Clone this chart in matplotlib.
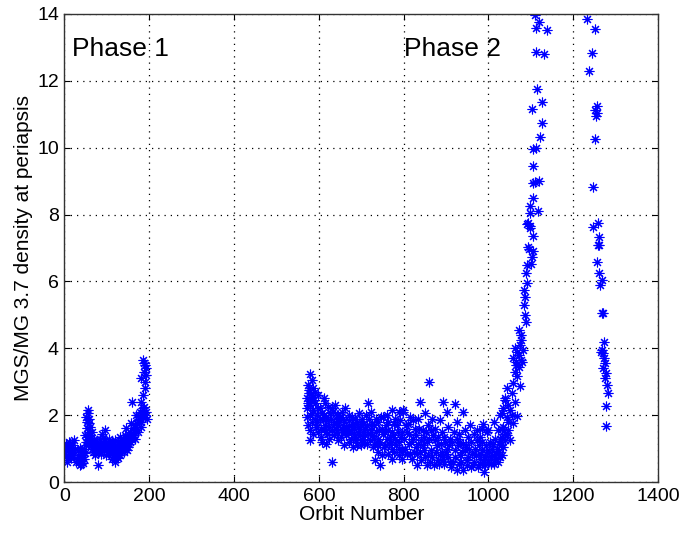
import matplotlib
matplotlib.use("Agg")
import matplotlib.pyplot as plt

plt.rcParams['font.family'] = ['Liberation Sans', 'DejaVu Sans']

# ---- data: (orbit number, density) ----
phase1_early = [(2,0.96),(5,1.05),(8,0.81),(10,1.2),(12,1.16),(14,0.9),(16,1.01),(18,1.1),(20,0.91),
                (22,1.25),(15,0.71),(7,0.61),(3,0.78),(24,1.0),
                (30,0.7),(32,0.81),(34,0.6),(36,1.01),(36,0.51),(38,0.9),(40,0.66),(42,0.75),(44,0.56),
                (46,1.0),(48,0.86),(50,1.2),(51,1.11),
                (4,1.15),(9,1.0),(13,0.75),(19,0.8),(28,0.6),(33,0.95),(39,0.55),(43,0.9),(47,0.7)]
phase1_peak = [(51,1.95),(53,1.8),(55,2.15),(56,2.05),(57,1.76),(54,1.61),(59,1.5),(48,1.41),(52,1.35),
               (63,1.31),(55,1.21),(58,1.4),(60,1.65),(62,1.2),(66,1.5),(58,1.9)]
phase1_mid = [(63,1.11),(67,0.91),(70,1.3),(71,1.01),(73,0.8),(75,1.16),(77,1.2),(79,0.91),(79,0.51),
              (81,1.0),(83,1.3),(85,0.85),(87,1.11),(89,1.45),(91,1.31),(93,0.95),(95,1.56),(97,1.2),
              (99,0.81),(100,1.05),(103,1.11),(105,1.3),(107,0.91),(110,1.01),(112,0.7),(113,1.2),
              (115,0.76),(117,0.95),(118,1.11),(118,0.61),(120,1.25),(122,0.85),(123,0.91),(125,1.1),
              (126,0.71),(128,0.95),(130,1.01),(130,1.36),(132,0.8),(134,1.21),(136,1.0),(138,1.11),
              (140,0.9),(142,1.41),(144,1.2),(146,1.06),(146,1.61),(148,0.95),(150,1.31),(152,1.15),
              (154,1.5),(156,1.3),(158,1.76),(159,2.38),
              (65,1.0),(69,1.2),(74,0.95),(78,1.05),(84,1.15),(88,1.0),(94,1.1),(98,1.0),(102,0.9),
              (108,1.15),(111,0.85),(116,1.05),(121,1.0),(124,0.75),(127,1.2),(131,0.9),(135,1.1),
              (139,1.25),(143,1.0),(147,1.25),(151,1.05),(155,1.2),(157,1.45),(160,1.3)]
phase1_end = [(162,1.61),(164,1.4),(166,1.71),(168,1.55),(169,2.0),(171,1.75),(173,1.85),(173,1.5),
              (175,1.9),(177,2.1),(179,1.95),(181,1.8),(181,1.65),(183,2.05),(185,1.95),(186,2.2),
              (188,2.25),(181,2.4),(185,2.6),(189,2.8),(181,3.1),(189,3.0),(188,3.3),(191,3.5),
              (185,3.65),(193,3.2),(193,2.1),(195,1.9),(190,2.0),(192,3.4),(187,3.55),
              (163,1.5),(167,1.3)]

phase2_start = [(579,3.22),(583,3.05),(574,2.90),(587,2.80),(592,2.70),(577,2.65),(599,2.60),(581,2.50),
                (576,2.75),(585,2.55),(575,2.35),(591,2.35),(571,2.20),(587,2.15),(579,2.00),(595,2.00),
                (583,1.80),(575,1.70),(579,1.25),(590,1.90),(572,1.95),(578,1.55),(586,1.45),(594,1.65),
                (598,2.2),(580,2.3),(588,2.45),(596,1.8),(573,2.5),(584,2.05)]
phase2_600s = [(603,2.20),(611,2.50),(615,2.35),(622,2.25),(630,2.20),(638,2.30),(662,2.20),(607,2.05),
               (618,1.95),(626,2.05),(634,2.1),(642,2.0),(650,1.95),(655,2.1),(670,2.0),(678,1.95),
               (686,1.9),(694,2.05),(701,1.90),(622,1.85),(646,2.0),(670,1.85),(610,1.85),(640,1.8),
               (660,1.8),(680,1.75),(690,1.8),
               (599,1.50),(615,1.70),(630,1.55),(646,1.70),(662,1.50),(678,1.65),(670,1.20),(693,1.50),
               (701,1.30),(605,1.35),(612,1.6),(620,1.45),(625,1.3),(635,1.4),(640,1.6),(652,1.35),
               (656,1.6),(665,1.4),(675,1.3),(684,1.45),(688,1.25),(697,1.6),(608,1.2),(632,0.59),
               (618,1.15),(645,1.25),(660,1.1),(680,1.05),(690,1.1),
               (602,1.9),(606,1.6),(613,2.0),(617,1.5),(624,1.65),(628,1.9),(636,1.75),(644,1.5),
               (648,1.8),(654,1.55),(658,1.9),(664,1.65),(668,1.5),(672,1.7),(676,1.5),(682,1.6),
               (686,1.35),(692,1.65),(696,1.4),(699,1.75)]
phase2_700s = [(709,1.60),(713,1.15),(715,2.35),(723,2.10),(725,1.40),(740,1.30),(732,0.65),(744,0.50),
               (740,0.90),(756,1.10),(772,1.00),(788,0.80),(772,0.70),(756,1.50),(772,1.50),(784,1.70),
               (764,1.80),(740,1.80),(752,1.95),(772,2.15),(788,2.10),(799,2.15),(705,1.75),(718,1.9),
               (730,1.7),(735,1.5),(748,1.6),(760,1.3),(765,1.15),(780,1.3),(790,1.2),(795,1.5),
               (720,1.25),(728,1.05),(736,1.15),(750,0.8),(762,0.85),(778,0.9),(795,1.0),(710,1.4),
               (746,1.95),(760,2.0),(780,1.9),(792,1.85),(712,2.0),(700,1.1),
               (703,1.5),(707,1.2),(714,1.7),(717,1.45),(722,1.55),(726,1.75),(731,1.3),(734,1.9),
               (738,1.1),(742,1.55),(745,1.2),(751,1.45),(754,1.05),(758,1.7),(763,1.55),(767,1.35),
               (770,1.2),(775,1.4),(777,1.75),(782,1.1),(786,1.5),(789,1.0),(793,1.35),(797,0.9)]
phase2_800s = [(861,2.98),(839,2.40),(894,2.40),(922,2.32),(851,2.05),(902,2.10),(939,2.08),(799,2.10),
               (815,1.95),(835,1.90),(866,1.90),(886,1.85),(925,1.80),(957,1.70),(988,1.75),(1012,1.80),
               (807,1.50),(823,1.30),(803,1.00),(819,0.70),(839,0.90),(854,1.20),(870,1.40),(862,0.60),
               (886,0.80),(878,1.10),(902,1.00),(909,1.30),(917,0.60),(933,0.80),(925,0.36),(941,1.15),
               (949,0.50),(961,0.85),(972,1.25),(980,0.70),(992,0.50),(996,0.90),(1004,1.20),(1012,0.80),
               (1020,1.00),(1027,1.30),(972,1.55),(996,1.50),(795,0.70),(831,0.50),
               (810,1.75),(826,1.6),(845,1.55),(858,1.7),(875,1.6),(890,1.5),(905,1.65),(918,1.5),
               (930,1.45),(945,1.55),(952,1.35),(965,1.45),(980,1.35),(985,1.6),(1000,1.55),(812,1.15),
               (828,1.05),(845,1.1),(850,0.75),(865,0.95),(872,0.5),(880,0.65),(895,0.55),(898,1.2),
               (905,0.75),(912,0.45),(920,0.95),(928,1.1),(936,0.6),(944,0.95),(953,0.75),(958,0.45),
               (965,0.6),(968,1.0),(975,0.45),(984,0.95),(988,0.6),(1000,0.65),(1005,0.55),(1008,1.0),
               (1016,0.7),(1022,0.6),(1025,0.9),(816,0.85),(832,0.85),(842,0.65),(856,0.5),(890,0.9),
               (940,0.35),(990,0.3),(1016,1.3),(1022,1.55),(1030,1.1),
               (801,1.3),(805,1.7),(809,0.85),(813,1.45),(817,1.2),(821,1.85),(824,0.9),(829,1.4),
               (833,1.15),(837,1.6),(841,1.25),(847,1.35),(849,0.95),(852,1.5),(857,0.8),(860,1.3),
               (864,1.55),(868,0.75),(873,1.25),(876,0.9),(882,1.35),(884,0.55),(888,1.15),(892,0.7),
               (896,1.35),(900,0.85),(907,1.1),(910,0.6),(914,1.2),(922,0.75),(926,1.3),(931,0.55),
               (934,1.2),(938,0.9),(947,1.1),(950,0.65),(955,1.0),(960,1.2),(963,0.5),(970,0.8),
               (977,1.1),(979,0.55),(982,0.85),(986,1.2),(991,0.75),(994,1.1),(998,0.6),(1002,0.9),
               (1006,0.75),(1010,1.15),(1014,0.55),(1018,0.85),(1024,1.15),(1028,0.75)]
phase2_rise = [(1027,2.00),(1035,2.20),(1043,2.80),(1039,2.50),(1031,1.60),(1043,1.40),
               (1031,2.05),(1043,1.95),(1051,2.15),(1068,1.98),(1059,1.76),(1035,1.65),(1047,1.56),
               (1031,1.36),(1039,1.26),(1051,1.26),(1035,1.06),(1031,0.81),(1055,2.65),(1039,2.45),
               (1059,2.95),(1075,2.88),(1067,3.17),(1063,4.0),(1082,3.95),(1071,3.80),(1059,3.70),
               (1078,3.65),(1065,3.50),(1073,3.45),(1071,4.55),(1076,4.40),(1078,4.25),(1089,4.80),
               (1084,5.29),(1086,5.54),(1084,5.74),(1092,5.96),(1089,6.26),(1100,6.52),(1102,6.74),
               (1096,6.96),(1094,7.02),(1106,7.37),(1098,7.6),(1090,7.72),(1098,7.67),(1094,7.74),
               (1118,8.12),(1098,8.05),(1098,8.27),(1104,8.49),(1106,8.95),(1119,9.0),(1110,8.98),
               (1104,9.46),(1106,9.96),(1112,10.0),(1122,10.33),(1126,10.73),(1102,11.15),(1126,11.38),
               (1115,11.75),(1112,12.87),(1130,12.80),(1112,13.57),(1138,13.52),(1120,13.77),(1110,13.97),
               (1045,2.3),(1055,2.0),(1063,2.4),(1047,1.8),(1040,1.45),(1062,3.3),(1068,3.9),(1074,4.1),
               (1080,3.6),(1066,3.6),(1087,5.0),(1090,6.5),(1104,6.9)]
phase2_late = [(1233,13.84),(1251,13.54),(1244,12.84),(1238,12.30),(1255,11.25),(1251,11.13),(1253,10.95),
               (1256,11.03),(1251,10.25),(1247,8.81),(1259,7.76),(1247,7.64),(1261,7.34),(1259,7.1),
               (1261,7.09),(1255,6.59),(1262,6.24),(1267,6.04),(1263,5.89),(1270,5.07),(1273,4.2),
               (1267,3.95),(1271,3.85),(1273,3.70),(1275,3.55),(1271,3.40),(1277,3.25),(1275,3.10),
               (1279,2.90),(1281,2.65),(1277,2.27),(1277,1.68),(1269,5.05),(1266,3.9)]

x_ticks = [0, 200, 400, 600, 800, 1000, 1200, 1400]
y_ticks = [0, 2, 4, 6, 8, 10, 12, 14]
x_label = "Orbit Number"
y_label = "MGS/MG 3.7 density at periapsis"
annotations = [(18, 12.75, "Phase 1"), (800, 12.75, "Phase 2")]

segments = [phase1_early, phase1_peak, phase1_mid, phase1_end,
            phase2_start, phase2_600s, phase2_700s, phase2_800s, phase2_rise, phase2_late]

fig = plt.figure(figsize=(6.83, 5.36), dpi=100)
ax = fig.add_axes([0.0944, 0.1007, 0.9634 - 0.0944, 0.9739 - 0.1007])

for seg in segments:
    xs = [p[0] for p in seg]
    ys = [p[1] for p in seg]
    ax.plot(xs, ys, linestyle='none', marker=(8, 2, 0), markersize=7,
            markeredgewidth=0.8, color=(0, 0, 1))

ax.set_xlim(0, 1400)
ax.set_ylim(0, 14)
ax.set_xticks(x_ticks)
ax.set_yticks(y_ticks)
ax.tick_params(direction='in', length=4, top=True, right=True, labelsize=14, pad=4, color='black')
ax.grid(True, linestyle=(0, (1, 4)), color='black', linewidth=0.9)
for s in ax.spines.values():
    s.set_color('#333333')
    s.set_linewidth(1.0)
ax.set_xlabel(x_label, fontsize=15, labelpad=0)
ax.set_ylabel(y_label, fontsize=15, labelpad=3)
for ox, oy, t in annotations:
    ax.text(ox, oy, t, fontsize=19, ha='left', va='baseline')

fig.savefig("out.png", dpi=100)
